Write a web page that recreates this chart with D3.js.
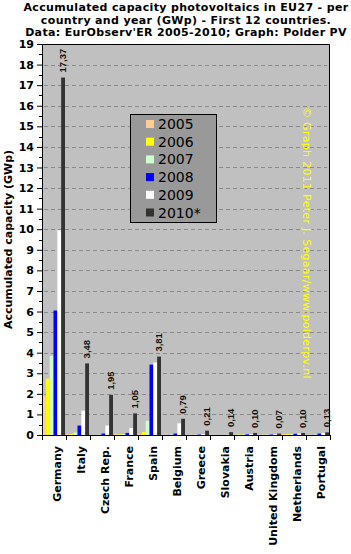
<!DOCTYPE html>
<html>
<head>
<meta charset="utf-8">
<script src="https://cdn.jsdelivr.net/npm/d3@7"></script>
<style>
  body { margin: 0; background: #ffffff; }
  svg { display: block; }
  text { font-family: "DejaVu Sans", Verdana, sans-serif; }
</style>
</head>
<body>
<div id="chart"></div>
<script>
////////////////////////////////////////////////////////////////////////
// Data (GWp, accumulated)

let countries = ["Germany", "Italy", "Czech Rep.", "France", "Spain", "Belgium",
  "Greece", "Slovakia", "Austria", "United Kingdom", "Netherlands", "Portugal"];

let years = ["2005", "2006", "2007", "2008", "2009", "2010*"];

let yearColors = ["#ffcc99", "#ffff00", "#ccffcc", "#0000ff", "#ffffff", "#333333"];

let cap2005 = [1.91, 0.04, 0.00, 0.03, 0.05, 0.00, 0.00, 0.00, 0.02, 0.01, 0.05, 0.00];
let cap2006 = [2.74, 0.05, 0.00, 0.04, 0.15, 0.00, 0.01, 0.00, 0.03, 0.01, 0.05, 0.00];
let cap2007 = [3.85, 0.12, 0.00, 0.05, 0.69, 0.02, 0.01, 0.00, 0.03, 0.02, 0.05, 0.02];
let cap2008 = [6.05, 0.46, 0.07, 0.10, 3.42, 0.07, 0.02, 0.00, 0.03, 0.02, 0.06, 0.07];
let cap2009 = [9.96, 1.18, 0.46, 0.34, 3.52, 0.57, 0.05, 0.00, 0.05, 0.03, 0.07, 0.10];
let cap2010 = [17.37, 3.48, 1.95, 1.05, 3.81, 0.79, 0.21, 0.14, 0.10, 0.07, 0.10, 0.13];

let series = [cap2005, cap2006, cap2007, cap2008, cap2009, cap2010];

let titleLines = [
  "Accumulated capacity photovoltaics in EU27 - per",
  "country and year (GWp) - First 12 countries.",
  "Data: EurObserv'ER 2005-2010; Graph: Polder PV"
];

let yTicks = d3.range(0, 20);

////////////////////////////////////////////////////////////////////////
// Layout

let width = 351;
let height = 554;
let margin = {top: 44, right: 21, bottom: 119, left: 42};
let plotW = width - margin.left - margin.right;
let plotH = height - margin.top - margin.bottom;

let svg = d3.select("#chart")
  .append("svg")
  .attr("width", width)
  .attr("height", height);

// scales
let x0 = d3.scaleBand()
  .domain(countries)
  .range([0, plotW])
  .padding(0);

let x1 = d3.scaleBand()
  .domain(years)
  .range([0, x0.bandwidth() - 1])
  .padding(0);

let y = d3.scaleLinear()
  .domain([0, 19])
  .range([plotH, 0]);

let g = svg.append("g")
  .attr("transform", "translate(" + margin.left + "," + margin.top + ")");

// plot background
g.append("rect")
  .attr("width", plotW)
  .attr("height", plotH)
  .attr("fill", "#c0c0c0");

// dashed gridlines
g.append("g")
  .selectAll("line")
  .data(yTicks.filter(d => d > 0))
  .enter()
  .append("line")
  .attr("x1", 2)
  .attr("x2", plotW - 3)
  .attr("y1", d => Math.round(y(d)) + 0.5)
  .attr("y2", d => Math.round(y(d)) + 0.5)
  .attr("stroke", "#8a8a8a")
  .attr("stroke-dasharray", "4,3");

// bars, one group per country
let groups = g.append("g")
  .selectAll("g")
  .data(countries)
  .enter()
  .append("g")
  .attr("transform", d => "translate(" + x0(d) + ",0)");

groups.selectAll("rect")
  .data((c, ci) => years.map((yr, yi) => ({year: yr, value: series[yi][ci]})))
  .enter()
  .append("rect")
  .attr("x", d => x1(d.year))
  .attr("width", x1.bandwidth())
  .attr("y", d => y(d.value))
  .attr("height", d => plotH - y(d.value))
  .attr("fill", (d, i) => yearColors[i]);

// value labels above the 2010 bars
let fmt = d3.format(".2f");
g.append("g")
  .selectAll("text")
  .data(countries)
  .enter()
  .append("text")
  .attr("transform", (d, i) => "translate(" + (x0(d) + x1("2010*") + x1.bandwidth() / 2) + "," +
    (y(cap2010[i]) - 5) + ") rotate(-90)")
  .attr("dy", "0.35em")
  .attr("text-anchor", "start")
  .style("font-family", "'Liberation Sans', Arial, sans-serif")
  .style("font-size", "9.5px")
  .style("font-weight", "bold")
  .attr("fill", "#111")
  .text((d, i) => fmt(cap2010[i]).replace(".", ","));

// copyright note
g.append("text")
  .attr("transform", "translate(" + (plotW - 27) + "," + 63 + ") rotate(90)")
  .attr("fill", "#ffff00")
  .style("font-size", "11px")
  .style("letter-spacing", "0.3px")
  .text("\u00a9 Graph 2011 Peter J. Segaar/www.polderpv.nl");

// frame: top and right border
g.append("path")
  .attr("d", "M0.5,0.5H" + (plotW - 0.5) + "V" + plotH)
  .attr("fill", "none")
  .attr("stroke", "#000");

// y axis
let yAxisG = g.append("g")
  .attr("class", "yaxis")
  .call(d3.axisLeft(y).tickValues(yTicks).tickSize(5).tickPadding(3).tickFormat(d3.format("d")));

yAxisG.selectAll("text")
  .style("font-family", "'DejaVu Sans', Verdana, sans-serif")
  .style("font-size", "11px")
  .style("font-weight", "bold")
  .attr("fill", "#000");

// minor ticks at the half units
g.append("g")
  .selectAll("line")
  .data(d3.range(0.5, 19, 1))
  .enter()
  .append("line")
  .attr("x1", -3)
  .attr("x2", 0)
  .attr("y1", d => Math.round(y(d)) + 0.5)
  .attr("y2", d => Math.round(y(d)) + 0.5)
  .attr("stroke", "#000");

// x axis: baseline with ticks between countries
let xAxisG = g.append("g")
  .attr("transform", "translate(0," + plotH + ")");

xAxisG.append("line")
  .attr("x1", 0)
  .attr("x2", plotW)
  .attr("y1", 0.5)
  .attr("y2", 0.5)
  .attr("stroke", "#000");

xAxisG.selectAll(".xtick")
  .data(countries.concat(["end"]))
  .enter()
  .append("line")
  .attr("class", "xtick")
  .attr("x1", (d, i) => Math.round(i * x0.bandwidth()) + 0.5)
  .attr("x2", (d, i) => Math.round(i * x0.bandwidth()) + 0.5)
  .attr("y1", 0)
  .attr("y2", 5)
  .attr("stroke", "#000");

xAxisG.selectAll(".xlabel")
  .data(countries)
  .enter()
  .append("text")
  .attr("class", "xlabel")
  .attr("transform", d => "translate(" + (x0(d) + x0.bandwidth() / 2 + 3) + ",11) rotate(-90)")
  .attr("dy", "0.35em")
  .attr("text-anchor", "end")
  .style("font-size", "11px")
  .style("font-weight", "bold")
  .attr("fill", "#000")
  .text(d => d);

// y axis title
svg.append("text")
  .attr("transform", "translate(12," + (margin.top + plotH / 2) + ") rotate(-90)")
  .attr("text-anchor", "middle")
  .style("font-size", "11px")
  .style("font-weight", "bold")
  .text("Accumulated capacity (GWp)");

// title (nudged up a little so line 3 clears the "19" tick label)
svg.append("g")
  .selectAll("text")
  .data(titleLines)
  .enter()
  .append("text")
  .attr("x", margin.left + plotW / 2)
  .attr("y", (d, i) => 11 + i * 12.5)
  .attr("text-anchor", "middle")
  .style("font-size", "11px")
  .style("font-weight", "bold")
  .style("letter-spacing", "0.35px")
  .text(d => d);

// legend
let legendX = 130, legendY = 114;
let legend = svg.append("g")
  .attr("transform", "translate(" + legendX + "," + legendY + ")");

legend.append("rect")
  .attr("x", 0.5)
  .attr("y", 0.5)
  .attr("width", 86)
  .attr("height", 108)
  .attr("fill", "#999999")
  .attr("stroke", "#000");

let rows = legend.selectAll(".row")
  .data(years)
  .enter()
  .append("g")
  .attr("class", "row")
  .attr("transform", (d, i) => "translate(0," + (10 + i * 17.7) + ")");

rows.append("rect")
  .attr("x", 16)
  .attr("y", -4)
  .attr("width", 8)
  .attr("height", 8)
  .attr("fill", (d, i) => yearColors[i]);

rows.append("text")
  .attr("x", 28)
  .attr("y", 5)
  .style("font-size", "14px")
  .attr("fill", "#000")
  .text(d => d);
</script>
</body>
</html>
